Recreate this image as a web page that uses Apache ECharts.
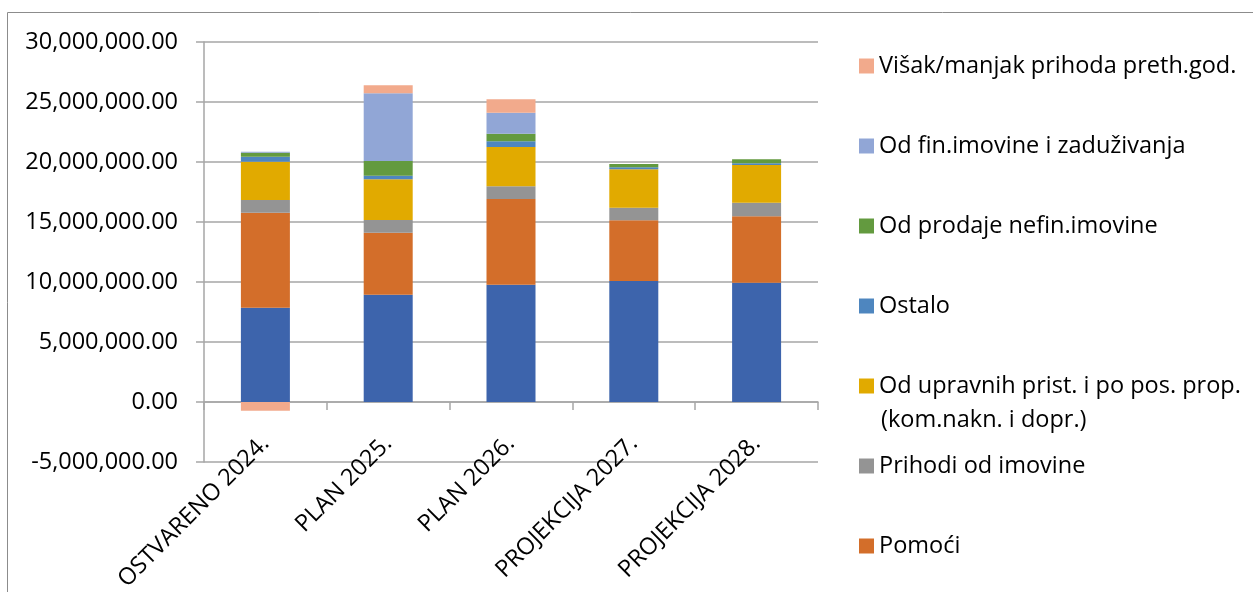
<!DOCTYPE html>
<html>
<head>
<meta charset="utf-8">
<script src="https://cdn.jsdelivr.net/npm/echarts@6/dist/echarts.min.js"></script>
<style>html,body{margin:0;padding:0;background:#fff}#c{width:1253px;height:592px}</style>
</head>
<body>
<div id="c"></div>
<script>
var categories = ['OSTVARENO 2024.', 'PLAN 2025.', 'PLAN 2026.', 'PROJEKCIJA 2027.', 'PROJEKCIJA 2028.'];
var seriesNames = ['Prihodi od poreza', 'Pomoći', 'Prihodi od imovine', 'Od upravnih prist. i po pos. prop.', 'Ostalo', 'Od prodaje nefin.imovine', 'Od fin.imovine i zaduživanja', 'Višak/manjak prihoda preth.god.'];
var porezi      = [7860000, 8940000, 9780000, 10080000, 9940000];
var pomoci      = [7920000, 5170000, 7140000, 5060000, 5530000];
var imovina     = [1050000, 1060000, 1050000, 1050000, 1140000];
var upravne     = [3200000, 3390000, 3280000, 3200000, 3140000];
var ostalo      = [410000, 300000, 470000, 170000, 140000];
var nefin       = [340000, 1220000, 640000, 270000, 330000];
var finImovina  = [80000, 5640000, 1750000, 0, 0];
var visak       = [-720000, 670000, 1110000, 0, 0];
var yTicks = [-5000000, 0, 5000000, 10000000, 15000000, 20000000, 25000000, 30000000];

var seriesData = [porezi, pomoci, imovina, upravne, ostalo, nefin, finImovina, visak];
var colors = ['#3D64AC', '#D36E2A', '#949494', '#E1AA00', '#4E86BF', '#639A3F', '#91A6D6', '#F2AA8C'];
var FONT = 'Open Sans';
var FS = 23.5;

function fmt(v) {
  var s = Math.abs(v).toFixed(2).split('.');
  s[0] = s[0].replace(/\B(?=(\d{3})+(?!\d))/g, ',');
  return (v < 0 ? '-' : '') + s[0] + '.' + s[1];
}

var series = seriesNames.map(function (n, i) {
  return {
    name: n, type: 'bar', stack: 'total', barWidth: 49,
    itemStyle: { color: colors[i] },
    data: seriesData[i]
  };
});

var legendOrder = [7, 6, 5, 4, 3, 2, 1];
var legends = legendOrder.map(function (si, k) {
  return {
    data: [seriesNames[si]], orient: 'vertical', left: 859, top: 66 + 80 * k - 15,
    padding: 0, itemWidth: 15, itemHeight: 15, itemGap: 0,
    selectedMode: false, icon: 'rect',
    textStyle: { fontFamily: FONT, fontSize: FS, color: '#000', lineHeight: 30 }
  };
});

var chart = echarts.init(document.getElementById('c'), null, { renderer: 'canvas' });
chart.setOption({
  animation: false,
  color: colors,
  legend: legends,
  grid: { left: 204, right: 435, top: 42, bottom: 130, containLabel: false, outerBoundsMode: 'none' },
  xAxis: {
    type: 'category', data: categories,
    axisLine: { onZero: true, lineStyle: { color: '#A6A6A6', width: 1.5 } },
    axisTick: { show: true, alignWithLabel: false, length: 8, lineStyle: { color: '#A6A6A6', width: 1.5 } },
    axisLabel: { rotate: 45, margin: -22, fontFamily: FONT, fontSize: FS, color: '#000', interval: 0, hideOverlap: false }
  },
  yAxis: {
    type: 'value', min: yTicks[0], max: yTicks[yTicks.length - 1], interval: 5000000,
    axisLine: { show: true, lineStyle: { color: '#A6A6A6', width: 1.5 } },
    axisTick: { show: true, length: 8, inside: false, lineStyle: { color: '#A6A6A6', width: 1.5 } },
    splitLine: { show: true, lineStyle: { color: '#A6A6A6', width: 1.5 } },
    axisLabel: { margin: 26, fontFamily: FONT, fontSize: FS, color: '#000', formatter: fmt }
  },
  graphic: [
    { type: 'rect', shape: { x: 7.5, y: 12.5, width: 1400, height: 800 }, style: { fill: 'none', stroke: '#8C8C8C', lineWidth: 1 }, silent: true },
    { type: 'text', left: 881, top: 420 - 15, style: { text: '(kom.nakn. i dopr.)', fontFamily: FONT, fontSize: FS, fill: '#000', lineHeight: 30 } }
  ],
  series: series
});
</script>
</body>
</html>
